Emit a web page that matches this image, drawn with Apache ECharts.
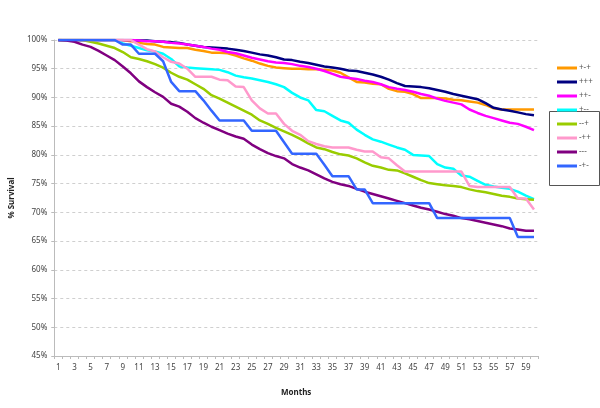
<!DOCTYPE html>
<html><head><meta charset="utf-8">
<script src="https://cdn.jsdelivr.net/npm/echarts@6/dist/echarts.min.js"></script>
<style>html,body{margin:0;padding:0;background:#fff}#c{width:600px;height:408px}</style>
</head><body><div id="c"></div>
<script>
const months = Array.from({length:60},(_, i)=>String(i+1));
const yTicks = [45,50,55,60,65,70,75,80,85,90,95,100];
const seriesNames = ['+-+','+++','++-','+--','--+','-++','---','-+-'];
const colors = ['#FF9900','#000080','#FF00FF','#00FFFF','#99CC00','#FF99CC','#800080','#3366FF'];

const s_pmp = [100,100,100,100,100,100,100,100,100,99.8,99.5,99.3,99.2,98.8,98.7,98.6,98.6,98.3,98.1,97.8,97.8,97.7,97.3,96.8,96.4,95.9,95.5,95.2,95.1,95.0,95.0,94.9,94.9,94.8,94.7,94.3,93.5,92.7,92.6,92.4,92.3,91.5,91.1,91.0,90.6,89.9,89.9,89.9,89.8,89.6,89.5,89.3,89.1,88.7,88.1,87.9,87.9,87.9,87.9,87.9];
const s_ppp = [100,100,100,100,100,100,100,100,100,100,99.9,99.9,99.8,99.7,99.6,99.5,99.2,99.0,98.8,98.7,98.6,98.5,98.3,98.1,97.8,97.5,97.3,97.0,96.6,96.5,96.2,96.0,95.7,95.4,95.2,95.0,94.7,94.6,94.3,94.0,93.6,93.1,92.5,92.0,91.9,91.8,91.6,91.3,91.0,90.6,90.3,90.0,89.7,89.0,88.2,87.9,87.7,87.4,87.1,86.9];
const s_ppm = [100,100,100,100,100,100,100,100,100,100,99.9,99.8,99.8,99.7,99.5,99.4,99.2,99.0,98.8,98.5,98.3,97.9,97.7,97.3,96.9,96.6,96.3,96.1,96.0,95.8,95.5,95.3,95.0,94.6,94.1,93.6,93.4,93.2,92.9,92.7,92.3,91.8,91.5,91.3,91.0,90.6,90.3,89.8,89.4,89.1,88.8,87.9,87.3,86.8,86.4,86.0,85.6,85.4,84.9,84.3];
const s_pmm = [100,100,100,100,100,100,100,100,99.4,99.0,98.6,98.2,98.0,97.6,96.7,95.4,95.2,95.1,95.0,94.9,94.8,94.4,93.8,93.5,93.3,93.0,92.7,92.3,91.8,90.8,90.0,89.5,87.8,87.6,86.8,86.0,85.6,84.4,83.5,82.7,82.3,81.8,81.3,80.9,80.0,79.9,79.8,78.4,77.8,77.6,76.4,76.2,75.5,74.8,74.5,74.3,74.1,73.6,72.9,72.3];
const s_mmp = [100,100,100,100,99.7,99.4,99.0,98.6,97.9,97.0,96.7,96.3,95.8,95.2,94.3,93.6,93.1,92.3,91.5,90.4,89.8,89.1,88.4,87.7,87.0,86.0,85.4,84.7,84.1,83.5,82.8,82.0,81.3,81.0,80.5,80.1,79.9,79.4,78.7,78.1,77.8,77.4,77.3,76.8,76.2,75.6,75.1,74.9,74.7,74.6,74.4,74.0,73.7,73.5,73.2,72.9,72.7,72.4,72.3,72.2];
const s_mpp = [100,100,100,100,100,100,100,100,100,100,99.2,98.4,98.0,97.0,96.2,95.9,95.0,93.6,93.6,93.6,93.1,93.0,91.9,91.8,89.5,88.1,87.2,87.2,85.4,84.2,83.5,82.4,81.9,81.5,81.3,81.3,81.3,80.9,80.6,80.6,79.6,79.4,78.2,77.1,77.1,77.1,77.1,77.1,77.1,77.1,77.1,74.6,74.4,74.4,74.4,74.4,74.4,72.4,72.4,70.5];
const s_mmm = [100,99.9,99.7,99.2,98.8,98.1,97.3,96.5,95.4,94.2,92.8,91.8,90.9,90.1,88.9,88.4,87.5,86.4,85.6,84.9,84.3,83.7,83.2,82.8,81.8,81.0,80.3,79.8,79.4,78.4,77.8,77.3,76.6,75.9,75.3,74.9,74.6,74.1,73.6,73.2,72.8,72.4,72.0,71.6,71.2,70.8,70.5,70.1,69.7,69.4,69.0,68.8,68.5,68.2,67.9,67.6,67.2,67.0,66.8,66.8];
const s_mpm = [100,100,100,100,100,100,100,100,99.2,99.2,97.6,97.6,97.6,96.3,92.7,91.1,91.1,91.1,89.5,87.7,86.0,86.0,86.0,86.0,84.2,84.2,84.2,84.2,82.2,80.2,80.2,80.2,80.2,78.3,76.3,76.3,76.3,74.0,74.0,71.6,71.6,71.6,71.6,71.6,71.6,71.6,71.6,69.0,69.0,69.0,69.0,69.0,69.0,69.0,69.0,69.0,69.0,65.7,65.7,65.7];

const allData = [s_pmp,s_ppp,s_ppm,s_pmm,s_mmp,s_mpp,s_mmm,s_mpm];
const font = 'Noto Sans';
const chart = echarts.init(document.getElementById('c'), null, {renderer:'canvas'});
chart.setOption({
  animation:false,
  backgroundColor:'#fff',
  grid:{left:52,right:62,top:40,bottom:52,containLabel:false},
  legend:{
    orient:'vertical', left:552, top:59, itemWidth:20, itemHeight:3, itemGap:6,
    icon:'rect', data:seriesNames,
    textStyle:{fontFamily:font,fontSize:8,color:'#555',padding:[0,0,0,-3]}
  },
  xAxis:{
    type:'category', data:months, boundaryGap:true,
    name:'Months', nameLocation:'middle', nameGap:33,
    nameTextStyle:{fontFamily:font,fontSize:8,fontWeight:'bold',color:'#222'},
    axisLine:{lineStyle:{color:'#bbb',width:1}},
    axisTick:{show:true,interval:0,length:3,lineStyle:{color:'#bbb'}},
    axisLabel:{interval:1,fontFamily:font,fontSize:8,color:'#444',margin:8}
  },
  yAxis:{
    type:'value', min:yTicks[0], max:yTicks[yTicks.length-1], interval:5,
    name:'% Survival', nameLocation:'middle', nameGap:30, nameRotate:90,
    nameTextStyle:{fontFamily:font,fontSize:8,fontWeight:'bold',color:'#222'},
    axisLine:{show:true,lineStyle:{color:'#bbb',width:1}},
    axisTick:{show:true,length:3,lineStyle:{color:'#bbb'}},
    axisLabel:{formatter:'{value}%',fontFamily:font,fontSize:8,color:'#444',margin:7},
    splitLine:{show:true,lineStyle:{color:'#cfcfcf',type:[3,3],width:1}}
  },
  graphic:[{type:'rect',left:547,top:109,shape:{width:50,height:74},style:{fill:'none',stroke:'#555',lineWidth:1},z:-1}],
  series: seriesNames.map((n,i)=>({
    name:n, type:'line', data:allData[i], showSymbol:false, symbol:'none',
    lineStyle:{width:2.5,color:colors[i]}, itemStyle:{color:colors[i]}
  }))
});
</script></body></html>
